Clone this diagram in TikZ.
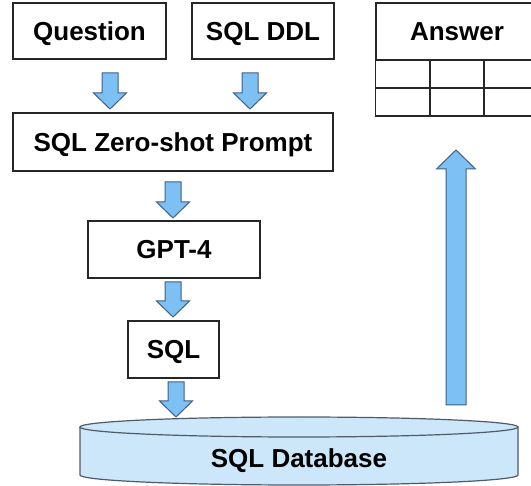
\documentclass[tikz,border=0pt]{standalone}
\usepackage{fontspec}
\setmainfont{Liberation Sans}
\usetikzlibrary{calc}

\definecolor{arrowblue}{HTML}{7DC0F4}
\definecolor{arrowedge}{HTML}{3F5F86}
\definecolor{dbblue}{HTML}{CCE6FA}
\definecolor{dbedge}{HTML}{4F5B68}

% block arrow: start, end, half shaft width, half head width, head length
\newcommand{\blockarrow}[5]{%
\coordinate (hb) at ($(#2)!#5!(#1)$);
\draw [flow] ($(#1)!#3!90:(#2)$) -- ($(hb)!#3!90:(#2)$) -- ($(hb)!#4!90:(#2)$) -- (#2)
  -- ($(hb)!#4!-90:(#2)$) -- ($(hb)!#3!-90:(#2)$) -- ($(#1)!#3!-90:(#2)$) -- cycle;
}

\begin{document}
\begin{tikzpicture}[x=1pt,y=-1pt,
  box/.style={draw=black!85, line width=1.2pt, inner sep=0pt,
    font=\fontsize{26}{30}\selectfont\bfseries, text height=22pt, text depth=3.5pt},
  flow/.style={fill=arrowblue, draw=arrowedge, line width=1pt, line join=miter}]
\useasboundingbox (0,0) rectangle (531,486);
\clip (0,0) rectangle (531,486);

\node [box, minimum width=153pt, minimum height=56pt] (question) at (89.5,31) {Question};
\node [box, minimum width=142pt, minimum height=56pt] (ddl) at (263,31) {SQL DDL};
\node [box, minimum width=162pt, minimum height=57pt] (answer) at (457,31.5) {Answer};
\node [box, minimum width=320pt, minimum height=58pt] (prompt) at (173,142) {SQL Zero-shot Prompt};
\node [box, minimum width=172pt, minimum height=57pt] (gpt) at (174,249.5) {GPT-4};
\node [box, minimum width=91pt, minimum height=57pt] (sql) at (173.5,349.5) {SQL};

% answer table
\draw [draw=black!85, line width=1.2pt] (answer.south west) rectangle (538,116);
\draw [draw=black!85, line width=1.2pt] (376,88) -- (538,88) (430,60) -- (430,116) (484,60) -- (484,116);

% database
\fill [dbblue] (80,427) -- (80,475) arc [start angle=180, end angle=0, x radius=219, y radius=10]
  -- (518,427) arc [start angle=0, end angle=-180, x radius=219, y radius=10] -- cycle;
\draw [dbedge, line width=1.2pt] (80,427) -- (80,475) arc [start angle=180, end angle=0, x radius=219, y radius=10] -- (518,427);
\draw [dbedge, line width=1.2pt] (299,427) ellipse [x radius=219, y radius=10];
\node [box, draw=none] (db) at (299,458) {SQL Database};

\coordinate (q1) at (110,73);
\coordinate (q2) at (110,109);
\coordinate (d1) at (250,73);
\coordinate (d2) at (250,109);
\coordinate (p1) at (173,182);
\coordinate (p2) at (173,218);
\coordinate (g1) at (173,282);
\coordinate (g2) at (173,317);
\coordinate (s1) at (176,382);
\coordinate (s2) at (176,417);
\coordinate (r1) at (456,405);
\coordinate (r2) at (456,150);

\blockarrow{q1}{q2}{8pt}{16.5pt}{16pt}
\blockarrow{d1}{d2}{8pt}{16.5pt}{16pt}
\blockarrow{p1}{p2}{8pt}{16.5pt}{16pt}
\blockarrow{g1}{g2}{8pt}{16.5pt}{16pt}
\blockarrow{s1}{s2}{8pt}{16.5pt}{16pt}
\blockarrow{r1}{r2}{10pt}{19.5pt}{19pt}
\end{tikzpicture}
\end{document}
